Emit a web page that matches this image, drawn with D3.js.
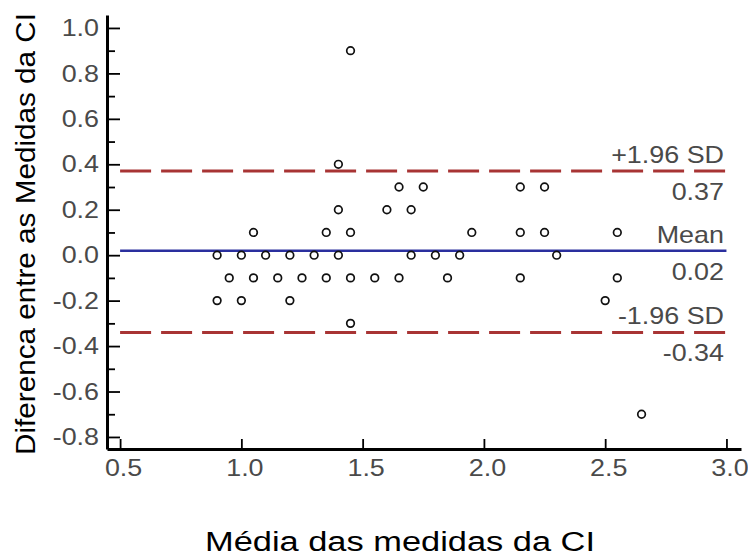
<!DOCTYPE html>
<html>
<head>
<meta charset="utf-8">
<script src="https://cdn.jsdelivr.net/npm/d3@7"></script>
<style>
  body { margin: 0; background: #fff; }
  text { font-family: "Liberation Sans", Arial, sans-serif; }
</style>
</head>
<body>
<svg id="chart"></svg>
<script>
// Bland-Altman data: mean of the two CI measures (x) and their difference (y)
var meanVals = [1.45,
  1.4,
  1.65, 1.75, 2.15, 2.25,
  1.4, 1.6, 1.7,
  1.05, 1.35, 1.45, 1.95, 2.15, 2.25, 2.55,
  0.9, 1.0, 1.1, 1.2, 1.3, 1.4, 1.7, 1.8, 1.9, 2.3,
  0.95, 1.05, 1.15, 1.25, 1.35, 1.45, 1.55, 1.65, 1.85, 2.15, 2.55,
  0.9, 1.0, 1.2, 2.5,
  1.45,
  2.65];
var diffVals = [0.9,
  0.4,
  0.3, 0.3, 0.3, 0.3,
  0.2, 0.2, 0.2,
  0.1, 0.1, 0.1, 0.1, 0.1, 0.1, 0.1,
  0, 0, 0, 0, 0, 0, 0, 0, 0, 0,
  -0.1, -0.1, -0.1, -0.1, -0.1, -0.1, -0.1, -0.1, -0.1, -0.1, -0.1,
  -0.2, -0.2, -0.2, -0.2,
  -0.3,
  -0.7];

// reference lines (limits of agreement)
var limitNames = ["+1.96 SD", "Mean", "-1.96 SD"];
var limitVals = [0.37, 0.02, -0.34];

var xTicks = [0.5, 1.0, 1.5, 2.0, 2.5, 3.0];
var yTicks = [-0.8, -0.6, -0.4, -0.2, 0.0, 0.2, 0.4, 0.6, 0.8, 1.0];
var yMinor = [-0.7, -0.5, -0.3, -0.1, 0.1, 0.3, 0.5, 0.7, 0.9];

var svgWidth = 748, svgHeight = 560;
var svg = d3.select("#chart")
  .attr("width", svgWidth)
  .attr("height", svgHeight);

var xScale = d3.scaleLinear().domain([0.446, 3.06]).range([107, 741]);
var yScale = d3.scaleLinear().domain([-0.853, 1.057]).range([449, 15]);

var labelColor = "#4a4a4a";

// the original text is a bit wider than Arial, stretch it sideways
function widen(sel, k) {
  sel.each(function() {
    var w = this.getComputedTextLength();
    d3.select(this).attr("textLength", w * k).attr("lengthAdjust", "spacingAndGlyphs");
  });
}

// limit lines first so the axes sit on top
var lineColors = ["#a83434", "#2a2f9e", "#a83434"];
var lines = svg.append("g").attr("id", "limits");
limitVals.forEach(function(v, i) {
  lines.append("line")
    .attr("x1", xScale(0.5))
    .attr("x2", xScale(3.0))
    .attr("y1", yScale(v))
    .attr("y2", yScale(v))
    .attr("stroke", lineColors[i])
    .attr("stroke-width", i == 1 ? 2.5 : 3)
    .attr("stroke-dasharray", i == 1 ? null : "31,10");
  lines.append("text")
    .attr("class", "lim")
    .attr("x", 724)
    .attr("y", yScale(v) - 8)
    .attr("text-anchor", "end")
    .attr("font-size", 24)
    .attr("fill", labelColor)
    .text(limitNames[i]);
  lines.append("text")
    .attr("class", "lim")
    .attr("x", 724)
    .attr("y", yScale(v) + 29)
    .attr("text-anchor", "end")
    .attr("font-size", 24)
    .attr("fill", labelColor)
    .text(v.toFixed(2));
});
widen(lines.selectAll("text.lim"), 1.12);

// points
var pts = meanVals.map(function(m, i) { return [m, diffVals[i]]; });
svg.append("g").attr("id", "points")
  .selectAll("circle")
  .data(pts)
  .enter().append("circle")
  .attr("cx", d => xScale(d[0]))
  .attr("cy", d => yScale(d[1]))
  .attr("r", 3.8)
  .attr("fill", "none")
  .attr("stroke", "#111")
  .attr("stroke-width", 1.7);

// y axis, ticks pointing inward
var yAxis = d3.axisLeft(yScale)
  .tickValues(yTicks)
  .tickSize(-13)
  .tickSizeOuter(0)
  .tickPadding(8)
  .tickFormat(d => d.toFixed(1));
var yGroup = svg.append("g").attr("transform", "translate(107,0)").call(yAxis);

var yMinorAxis = d3.axisLeft(yScale)
  .tickValues(yMinor)
  .tickSize(-8)
  .tickFormat("");
var yMinorGroup = svg.append("g").attr("transform", "translate(107,0)").call(yMinorAxis);
yMinorGroup.select(".domain").remove();

var xAxis = d3.axisBottom(xScale)
  .tickValues(xTicks)
  .tickSize(-10)
  .tickSizeOuter(0)
  .tickPadding(10)
  .tickFormat(d => d.toFixed(1));
var xGroup = svg.append("g").attr("transform", "translate(0,449)").call(xAxis);

[yGroup, xGroup].forEach(function(g) {
  g.select(".domain").attr("stroke", "#000").attr("stroke-width", 3);
  g.selectAll(".tick text")
    .attr("font-size", 24)
    .attr("fill", labelColor)
    .attr("font-family", "Liberation Sans, Arial, sans-serif");
  widen(g.selectAll(".tick text"), 1.12);
});
xGroup.selectAll(".tick text").attr("dx", 3);
svg.selectAll(".tick line").attr("stroke", "#000").attr("stroke-width", 1.8);

// axis titles
svg.append("text")
  .attr("x", 400)
  .attr("y", 551)
  .attr("text-anchor", "middle")
  .attr("font-size", 27)
  .attr("fill", "#000")
  .attr("textLength", 390)
  .attr("lengthAdjust", "spacingAndGlyphs")
  .text("Média das medidas da CI");

svg.append("text")
  .attr("transform", "translate(35,234) rotate(-90)")
  .attr("text-anchor", "middle")
  .attr("font-size", 28)
  .attr("fill", "#000")
  .attr("textLength", 442)
  .attr("lengthAdjust", "spacingAndGlyphs")
  .text("Diferenca entre as Medidas da CI");
</script>
</body>
</html>
